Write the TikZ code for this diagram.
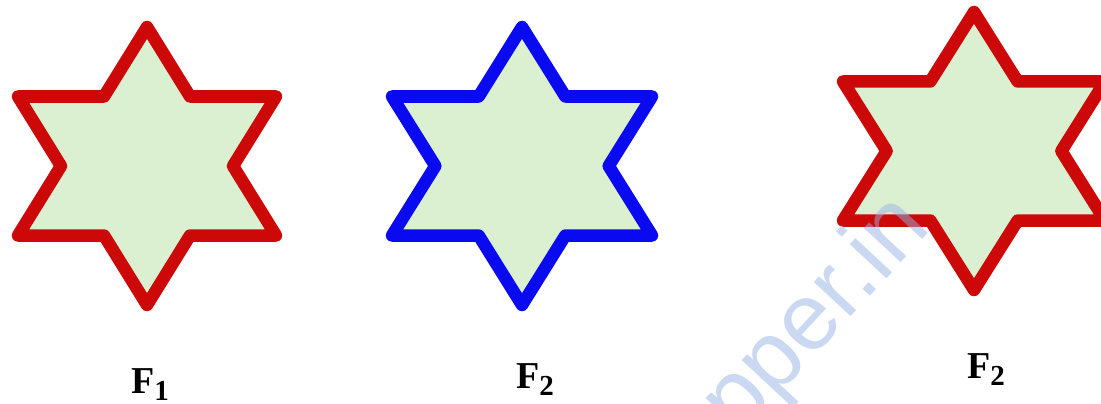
\documentclass[tikz,border=0pt]{standalone}
\usepackage{fontspec}
\setmainfont{Liberation Serif}
\newfontfamily\wmfont{Liberation Sans}
\definecolor{starfill}{RGB}{219,240,208}
\definecolor{starred}{RGB}{204,8,8}
\definecolor{starblue}{RGB}{10,10,240}
\definecolor{wmblue}{RGB}{150,180,228}
\newcommand{\hexstar}[5]{%
  \pgfmathsetmacro{\hcx}{#1}\pgfmathsetmacro{\hcy}{#2}%
  \pgfmathsetmacro{\hw}{#3}\pgfmathsetmacro{\hR}{#4}%
  \draw[starline, draw=#5]
    (\hcx, \hcy-\hR) -- (\hcx+\hw/3, \hcy-\hR/2) -- (\hcx+\hw, \hcy-\hR/2)
    -- (\hcx+2*\hw/3, \hcy) -- (\hcx+\hw, \hcy+\hR/2) -- (\hcx+\hw/3, \hcy+\hR/2)
    -- (\hcx, \hcy+\hR) -- (\hcx-\hw/3, \hcy+\hR/2) -- (\hcx-\hw, \hcy+\hR/2)
    -- (\hcx-2*\hw/3, \hcy) -- (\hcx-\hw, \hcy-\hR/2) -- (\hcx-\hw/3, \hcy-\hR/2)
    -- cycle;}
\newcommand{\flabel}[1]{F\raisebox{-7pt}{\fontsize{29}{30}\selectfont #1}}
\begin{document}
\begin{tikzpicture}[x=1pt,y=-1pt,
  starline/.style={line width=12.5pt, line join=round, fill=starfill},
  lab/.style={font=\fontsize{38}{44}\selectfont\bfseries, inner sep=0pt, anchor=base west},
  wm/.style={font=\wmfont\fontsize{95}{100}\selectfont, text=wmblue, text opacity=0.5, inner sep=0pt, anchor=base west}]
\useasboundingbox (0,0) rectangle (1101,404);
\clip (0,0) rectangle (1101,404);
\fill[white] (0,0) rectangle (1101,404);
\hexstar{147}{166}{129}{139}{starred}
\hexstar{522}{166}{130}{139}{starblue}
\hexstar{974}{151}{131}{139}{starred}
\node[wm, rotate=47] (wm) at (738,438) {pper.in};
\node[lab] (f1) at (131,393) {\flabel{1}};
\node[lab] (f2) at (516,388) {\flabel{2}};
\node[lab] (f3) at (967,378) {\flabel{2}};
\end{tikzpicture}
\end{document}
